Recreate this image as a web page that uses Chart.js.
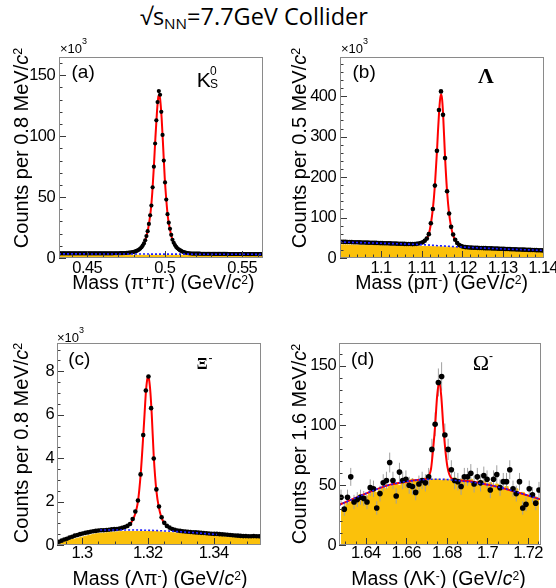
<!DOCTYPE html>
<html><head><meta charset="utf-8">
<script src="https://cdn.jsdelivr.net/npm/chart.js@4.4.1/dist/chart.umd.min.js"></script>
<style>
html,body{margin:0;padding:0;background:#fff;}
body{width:556px;height:588px;position:relative;overflow:hidden;font-family:'Liberation Sans',Arial,sans-serif;color:#000;}
canvas{position:absolute;}
.t{position:absolute;white-space:nowrap;line-height:1;}
.yt{position:absolute;white-space:nowrap;line-height:1;font-size:20px;transform:translate(-50%,-50%) rotate(-90deg);}
.xt{position:absolute;white-space:nowrap;line-height:1;font-size:19.5px;transform:translate(-50%,-50%);}
.sp{position:relative;top:-0.45em;font-size:62%;}
.sb{position:relative;top:0.25em;font-size:62%;}
.serif{font-family:'Liberation Serif','Times New Roman',serif;}
</style></head><body>

<div class="t" style="left:140px;top:5px;font-family:'Open Sans',sans-serif;font-size:23.5px;">√<span style="border-top:1.5px solid #000;">s<span class="sb" style="font-size:65%">NN</span></span>=7.7GeV Collider</div>

<canvas id="ca" width="278" height="246" style="left:0;top:40px"></canvas>
<canvas id="cb" width="278" height="246" style="left:278px;top:40px"></canvas>
<canvas id="cc" width="278" height="246" style="left:0;top:326px"></canvas>
<canvas id="cd" width="278" height="246" style="left:278px;top:326px"></canvas>

<!-- x10^3 -->
<div class="t" style="left:60px;top:42px;font-size:13px;">×10</div><div class="t" style="left:82px;top:37px;font-size:9px;">3</div>
<div class="t" style="left:341px;top:42px;font-size:13px;">×10</div><div class="t" style="left:363px;top:37px;font-size:9px;">3</div>
<div class="t" style="left:57px;top:330.5px;font-size:13px;">×10</div><div class="t" style="left:79px;top:325.5px;font-size:9px;">3</div>

<!-- panel labels -->
<div class="t" style="left:71.5px;top:62px;font-size:19px;">(a)</div>
<div class="t" style="left:352.5px;top:62px;font-size:19px;">(b)</div>
<div class="t" style="left:68.3px;top:349px;font-size:19px;">(c)</div>
<div class="t" style="left:351px;top:349px;font-size:19px;">(d)</div>

<div class="t" style="left:196.7px;top:69px;font-size:21px;">K</div>
<div class="t" style="left:210px;top:65px;font-size:12px;">0</div>
<div class="t" style="left:210px;top:78px;font-size:12px;">S</div>
<div class="t serif" style="left:478px;top:65px;font-size:22px;font-weight:bold;">Λ</div>
<div class="t serif" style="left:196.7px;top:356px;font-size:16px;font-weight:bold;">Ξ</div>
<div class="t" style="left:208.5px;top:352px;font-size:12px;">-</div>
<div class="t serif" style="left:472.7px;top:352.3px;font-size:22px;">Ω</div>
<div class="t" style="left:489px;top:350.4px;font-size:12px;">-</div>

<!-- axis titles -->
<div class="yt" style="left:21px;top:148px;">Counts per 0.8 MeV/<i>c</i><span class="sp">2</span></div>
<div class="yt" style="left:299px;top:148px;">Counts per 0.5 MeV/<i>c</i><span class="sp">2</span></div>
<div class="yt" style="left:21px;top:443px;">Counts per 0.8 MeV/<i>c</i><span class="sp">2</span></div>
<div class="yt" style="left:299px;top:444px;">Counts per 1.6 MeV/<i>c</i><span class="sp">2</span></div>
<div class="xt" style="left:163.3px;top:283px;">Mass (π<span class="sp">+</span>π<span class="sp">-</span>) (GeV/<i>c</i><span class="sp">2</span>)</div>
<div class="xt" style="left:441.7px;top:283px;">Mass (pπ<span class="sp">-</span>) (GeV/<i>c</i><span class="sp">2</span>)</div>
<div class="xt" style="left:160px;top:579px;">Mass (Λπ<span class="sp">-</span>) (GeV/<i>c</i><span class="sp">2</span>)</div>
<div class="xt" style="left:438.5px;top:579px;">Mass (ΛK<span class="sp">-</span>) (GeV/<i>c</i><span class="sp">2</span>)</div>

<script>
// ===================== DATA =====================
// (a) K0S  -- counts in units of 10^3, bins of 0.8 MeV
const aStart = 0.4322, aBin = 0.0008;
const aCounts = [
 3.8,3.8,3.8,3.8,3.8,3.8,3.8,3.8,3.8,3.8,
 3.8,3.8,3.8,3.8,3.8,3.8,3.8,3.8,3.8,3.8,
 3.8,3.8,3.8,3.8,3.8,3.8,3.8,3.8,3.8,3.8,
 3.8,3.8,3.8,3.8,3.8,3.8,3.8,3.8,3.8,3.8,
 3.8,3.8,3.8,3.8,3.9,3.9,3.9,3.9,3.9,4.0,
 4.0,4.0,
 4.05,4.1,4.2,4.3,4.4,4.5,4.7,4.9,5.1,5.4,5.8,6.3,6.9,7.7,8.8,10.2,12,14.5,18,22,28,35,43,58,75,94,113,128,
 137,
 134,120,101,80,62,48,36,29,24,19,15,12.5,10.6,9.1,8.0,7.1,6.4,5.8,5.3,4.9,4.6,4.3,4.1,3.9,3.8,3.7,3.6,
 3.6,3.6,3.6,3.6,3.6,3.6,3.5,3.5,3.5,3.5,
 3.5,3.5,3.5,3.5,3.5,3.5,3.4,3.4,3.4,3.4,
 3.4,3.4,3.4,3.4,3.4,3.4,3.4,3.4,3.3,3.3,
 3.3,3.3,3.3,3.3,3.3,3.3,3.3,3.3,3.3,3.3,
 3.3,3.3,3.2,3.2,3.2,3.2,3.2,3.2,3.2,3.2,
 3.2,3.2,3.2,3.2,3.2,3.2];
const aFitX = [0.4318,0.460,0.475,0.480,0.484,0.487,0.489,0.490,0.491,0.492,0.493,0.494,0.495,0.4955,0.4960,0.4965,0.4970,0.498,0.499,0.500,0.501,0.502,0.503,0.505,0.508,0.512,0.518,0.530,0.5634];
const aFitY = [3.7,3.8,4.2,5.1,7.7,13,22,29.5,39,54,75,99,120,128,133,133.5,131,115,91,66,48,34,26,15,8.3,5.0,3.6,3.4,3.1];
const aBgX = [0.4318,0.5634];
const aBgY = [3.4,3.0];
const aFillX = [0.4318,0.5634];
const aFillY = [2.2,2.2];
const aXTicks = [0.45,0.5,0.55], aXLabels = ['0.45','0.5','0.55'];
const aYTicks = [0,50,100,150], aYLabels = ['0','50','100','150'];

// (b) Lambda -- 10^3 counts, bins of 0.5 MeV
const bStart = 1.0898, bBin = 0.0005;
const bCounts = [
 40.3,40.1,39.9,39.8,39.6,39.4,39.3,39.1,38.9,38.8,
 38.6,38.4,38.3,38.1,37.9,37.8,37.6,37.4,37.3,37.1,
 36.9,36.8,36.6,36.4,36.3,36.1,35.9,35.8,35.6,35.4,
 35.3,35.1,34.9,34.8,34.6,34.5,34.4,34.6,35.0,
 35.8,37,39,42.5,48,59,86,121,179,265,366,412,354,247,165,110,77,58,45,37,32,29.5,28,27,26.4,26,
 25.7,25.5,25.3,25.1,24.9,24.7,24.5,24.3,24.1,24.0,
 23.8,23.6,23.4,23.2,23.0,22.8,22.6,22.4,22.2,22.0,
 21.8,21.6,21.4,21.2,21.0,20.8,20.6,20.4,20.2,20.0,
 19.8,19.6,19.4,19.2,19.0,18.8];
const bFitX = [1.0899,1.100,1.106,1.1088,1.1098,1.1108,1.1113,1.1118,1.1123,1.1128,1.1133,1.1138,1.11405,1.1143,1.11455,1.1148,1.11505,1.1153,1.1158,1.1163,1.1168,1.1173,1.1178,1.1183,1.1188,1.1198,1.1208,1.1228,1.130,1.1402];
const bFitY = [40.0,37.0,35.5,35.0,37.5,43,49,59,84,122,180,262,312,355,390,405,395,360,250,165,110,77,56,44,37,30,28,26,22.2,18.8];
const bBgX = [1.0899,1.100,1.110,1.1148,1.120,1.130,1.1402];
const bBgY = [39.5,36.5,33.0,30.0,27.0,22.5,18.8];
const bFillX = [1.0899,1.105,1.115,1.121,1.130,1.1402];
const bFillY = [32.5,29.5,27.5,25.0,21.0,16.5];
const bXTicks = [1.1,1.11,1.12,1.13,1.14], bXLabels = ['1.1','1.11','1.12','1.13','1.14'];
const bYTicks = [0,100,200,300,400], bYLabels = ['0','100','200','300','400'];

// (c) Xi- -- 10^3 counts, bins of 0.8 MeV
const cStart = 1.2930, cBin = 0.0008;
const cCounts = [
 0.15,0.20,0.25,0.29,0.34,0.38,0.43,0.46,0.50,0.53,
 0.56,0.58,0.61,0.63,0.65,0.67,0.68,0.68,0.69,0.70,
 0.72,0.73,0.74,0.76,0.79,0.83,0.88,0.97,1.20,1.54,
 2.05,3.25,5.06,7.11,7.76,6.30,3.98,2.56,1.77,1.28,
 1.02,0.88,0.80,0.74,0.70,0.67,0.65,0.63,0.62,0.61,
 0.60,0.59,0.58,0.57,0.56,0.55,0.54,0.53,0.52,0.51,
 0.51,0.50,0.49,0.48,0.47,0.46,0.45,0.44,0.43,0.42,
 0.41,0.41,0.40,0.40,0.41,0.40,0.40];
const cFitX = [1.3055,1.3100,1.3130,1.3146,1.3154,1.3162,1.3170,1.3178,1.3186,1.3190,1.3194,1.3198,1.3201,1.3204,1.3208,1.3212,1.3218,1.3226,1.3234,1.3242,1.3250,1.3270,1.3300,1.3350,1.3410];
const cFitY = [0.68,0.72,0.80,0.96,1.15,1.45,2.0,3.2,5.0,6.0,7.0,7.6,7.75,7.6,7.0,6.0,4.1,2.5,1.7,1.25,1.0,0.78,0.65,0.57,0.50];
const cBgX = [1.3055,1.3150,1.3250,1.3330,1.3410];
const cBgY = [0.69,0.69,0.65,0.58,0.48];
const cFillX = [1.2924,1.2939,1.2979,1.3040,1.3120,1.3222,1.3323,1.3446,1.3544];
const cFillY = [0.05,0.15,0.28,0.51,0.62,0.62,0.51,0.36,0.35];
const cXTicks = [1.3,1.32,1.34], cXLabels = ['1.3','1.32','1.34'];
const cYTicks = [0,2,4,6,8], cYLabels = ['0','2','4','6','8'];

// (d) Omega- -- counts, bins of 1.6 MeV
const dStart = 1.6278, dBin = 0.0016;
const dCounts = [
 40,30,40,57,36,38,40,39,36,48,
 47,31,43,52,54,69,54,41,61,54,
 55,50,49,44,51,54,52,57,80,101,
 136,141,92,80,63,54,53,49,57,57,
 60,51,57,52,58,55,46,55,59,48,
 53,53,63,47,43,53,31,34,47,42,
 35,46];
const dErr = [
 6.3,5.5,6.3,7.5,6.0,6.2,6.3,6.2,6.0,6.9,
 6.9,5.6,6.6,7.2,7.3,8.3,7.3,6.4,7.8,7.3,
 7.4,7.1,7.0,6.6,7.1,7.3,7.2,7.5,8.9,10.0,
 11.7,11.9,9.6,8.9,7.9,7.3,7.3,7.0,7.5,7.5,
 7.7,7.1,7.5,7.2,7.6,7.4,6.8,7.4,7.7,6.9,
 7.3,7.3,7.9,6.9,6.6,7.3,5.6,5.8,6.9,6.5,
 5.9,6.8];
const dHist = [
 30,31,35,36,38,39,42,40,41,43,
 45,44,46,48,47,49,50,51,50,52,
 53,52,55,54,53,55,56,54,55,55,
 55,54,55,54,55,56,53,55,54,53,
 55,52,51,54,53,50,52,49,51,48,
 47,49,46,45,47,43,44,42,41,40,
 40,39];
const dFitX = [1.6268,1.640,1.650,1.660,1.6665,1.6700,1.6712,1.6722,1.6732,1.6742,1.6752,1.6762,1.6772,1.6782,1.6792,1.6802,1.6812,1.6825,1.6900,1.7000,1.7100,1.7264];
const dFitY = [33.5,43,49.5,53,54.5,55.5,58,64,80,100,125,137,125,100,80,66,59,55.5,53.5,50.5,46.5,38];
const dBgX = [1.6268,1.640,1.650,1.6665,1.676,1.690,1.700,1.710,1.7264];
const dBgY = [33.5,43,49.5,54.5,55,53,50.5,46.5,38];
const dXTicks = [1.64,1.66,1.68,1.7,1.72], dXLabels = ['1.64','1.66','1.68','1.7','1.72'];
const dYTicks = [0,50,100,150], dYLabels = ['0','50','100','150'];

// ===================== DRAWING =====================
const YELLOW = '#fbc10b';
const TICKFONT = "'Liberation Sans Narrow','Liberation Sans',Arial,sans-serif";
function pts(xs, ys){ return xs.map((x,i)=>({x:x, y:ys[i]})); }
function binned(start, w, ys){ return ys.map((y,i)=>({x:start + i*w, y:y})); }
function steps(min, max, step){
  const out=[]; const k0=Math.ceil(min/step-1e-6), k1=Math.floor(max/step+1e-6);
  for(let k=k0;k<=k1;k++) out.push(k*step);
  return out;
}
const tightText = {
  id:'tightText',
  beforeDraw(chart){ try { chart.ctx.letterSpacing = '-0.6px'; } catch(e){} }
};
const frameTicks = {
  id:'frameTicks',
  afterDatasetsDraw(chart){
    const o = chart.options.plugins.frameTicks;
    const ctx = chart.ctx, a = chart.chartArea, xs = chart.scales.x, ys = chart.scales.y;
    ctx.save();
    ctx.lineWidth = 1; ctx.strokeStyle = '#3a3a3a';
    ctx.beginPath();
    steps(xs.min, xs.max, o.xMinor).forEach(v=>{ const p=Math.round(xs.getPixelForValue(v))+0.5; ctx.moveTo(p,a.bottom); ctx.lineTo(p,a.bottom-3.5); });
    o.xMajor.forEach(v=>{ const p=Math.round(xs.getPixelForValue(v))+0.5; ctx.moveTo(p,a.bottom); ctx.lineTo(p,a.bottom-7); });
    steps(ys.min, ys.max, o.yMinor).forEach(v=>{ const p=Math.round(ys.getPixelForValue(v))+0.5; ctx.moveTo(a.left,p); ctx.lineTo(a.left+3.5,p); });
    o.yMajor.forEach(v=>{ const p=Math.round(ys.getPixelForValue(v))+0.5; ctx.moveTo(a.left,p); ctx.lineTo(a.left+7,p); });
    ctx.stroke();
    ctx.strokeStyle = '#8a8a8a';
    ctx.strokeRect(Math.round(a.left)+0.5, Math.round(a.top)+0.5, Math.round(a.right-a.left)-1, Math.round(a.bottom-a.top)-1);
    ctx.restore();
  }
};

function build(id, p){
  const ds = [];
  ds.push({data:pts(p.bgX,p.bgY), borderColor:'#1c1cff', borderWidth:1.6, borderDash:[2,2], pointRadius:0, fill:false, tension:0.4, cubicInterpolationMode:'monotone'});
  ds.push({data:p.points, showLine:false, pointRadius:p.r, pointHoverRadius:p.r, pointBackgroundColor:'#000', pointBorderWidth:0, borderColor:'#000'});
  ds.push({data:pts(p.fitX,p.fitY), borderColor:'#ff0000', borderWidth:2, pointRadius:0, fill:false, tension:0.4, cubicInterpolationMode:'monotone'});
  if (p.err) ds.push({data:p.err, borderColor:'#a0a0a0', borderWidth:1, pointRadius:0, spanGaps:false, fill:false});
  ds.push({data:p.fill, borderColor:YELLOW, borderWidth:1, backgroundColor:YELLOW, fill:'origin', pointRadius:0, stepped:p.stepped||false, tension:0});
  return new Chart(document.getElementById(id), {
    type:'line',
    data:{datasets:ds},
    options:{
      responsive:false, animation:false, devicePixelRatio:1, events:[],
      layout:{padding:{top:p.pt, right:p.pr, left:0, bottom:0}},
      plugins:{legend:{display:false}, tooltip:{enabled:false}, title:{display:false},
        frameTicks:{xMajor:p.xTicks, yMajor:p.yTicks, xMinor:p.xMinor, yMinor:p.yMinor}},
      scales:{
        x:{type:'linear', min:p.xmin, max:p.xmax,
           grid:{display:false, drawTicks:false}, border:{display:false},
           afterBuildTicks:s=>{ s.ticks = p.xTicks.map(v=>({value:v})); },
           afterFit:s=>{ s.height = p.xh; s.paddingLeft = 0; s.paddingRight = 0; },
           ticks:{autoSkip:false, maxRotation:0, minRotation:0, padding:p.xpad, color:'#000',
             font:{family:TICKFONT, size:16.5}, callback:(v,i)=>p.xLabels[i]}},
        y:{type:'linear', min:0, max:p.ymax,
           grid:{display:false, drawTicks:false}, border:{display:false},
           afterBuildTicks:s=>{ s.ticks = p.yTicks.map(v=>({value:v})); },
           afterFit:s=>{ s.width = p.yw; s.paddingTop = 0; s.paddingBottom = 0; },
           ticks:{autoSkip:false, padding:p.ypad, color:'#000',
             font:{family:TICKFONT, size:16.5}, callback:(v,i)=>p.yLabels[i]}}
      }
    },
    plugins:[tightText, frameTicks]
  });
}

function errSegs(start, w, ys, es){
  const out=[];
  ys.forEach((y,i)=>{ const x=start+i*w; out.push({x:x,y:y-es[i]},{x:x,y:y+es[i]},{x:x,y:null}); });
  return out;
}

build('ca', {xmin:0.4318, xmax:0.5634, ymax:165, pt:17, pr:15, yw:59, xh:28, xpad:1, ypad:4,
  xTicks:aXTicks, xLabels:aXLabels, yTicks:aYTicks, yLabels:aYLabels, xMinor:0.01, yMinor:10,
  points:binned(aStart,aBin,aCounts), r:2.1, fitX:aFitX, fitY:aFitY, bgX:aBgX, bgY:aBgY, fill:pts(aFillX,aFillY)});
build('cb', {xmin:1.0899, xmax:1.1402, ymax:497, pt:17, pr:12, yw:62, xh:28, xpad:1, ypad:4,
  xTicks:bXTicks, xLabels:bXLabels, yTicks:bYTicks, yLabels:bYLabels, xMinor:0.002, yMinor:20,
  points:binned(bStart,bBin,bCounts), r:2.3, fitX:bFitX, fitY:bFitY, bgX:bBgX, bgY:bBgY, fill:pts(bFillX,bFillY)});
build('cc', {xmin:1.2924, xmax:1.3544, ymax:9.3, pt:17, pr:17, yw:57, xh:27, xpad:-1, ypad:3,
  xTicks:cXTicks, xLabels:cXLabels, yTicks:cYTicks, yLabels:cYLabels, xMinor:0.005, yMinor:0.5,
  points:binned(cStart,cBin,cCounts), r:2.3, fitX:cFitX, fitY:cFitY, bgX:cBgX, bgY:cBgY, fill:pts(cFillX,cFillY)});
build('cd', {xmin:1.6268, xmax:1.7264, ymax:169, pt:17, pr:15, yw:61, xh:27, xpad:-1, ypad:3,
  xTicks:dXTicks, xLabels:dXLabels, yTicks:dYTicks, yLabels:dYLabels, xMinor:0.005, yMinor:10,
  points:binned(dStart,dBin,dCounts), r:2.8, fitX:dFitX, fitY:dFitY, bgX:dBgX, bgY:dBgY,
  err:errSegs(dStart,dBin,dCounts,dErr), fill:binned(dStart,dBin,dHist), stepped:'middle'});
</script>
</body></html>
